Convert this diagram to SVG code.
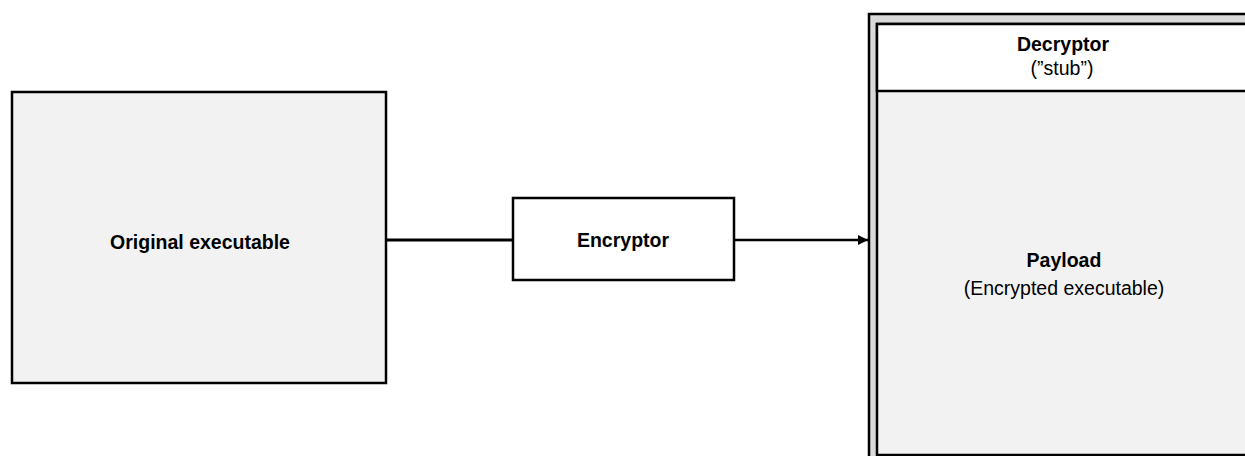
<svg xmlns="http://www.w3.org/2000/svg" width="1245" height="456" viewBox="0 0 1245 456">
<style>
text{font-family:"Liberation Sans",Arial,sans-serif;font-size:19.5px;fill:#000;text-anchor:middle}
.b{font-weight:bold}
.box{stroke:#000;stroke-width:2.5}
</style>
<defs>
<marker id="arr" markerWidth="10" markerHeight="10" refX="10" refY="5" orient="auto" markerUnits="userSpaceOnUse"><path d="M0,0 L10,5 L0,10 Z" fill="#000"/></marker>
</defs>
<rect width="1245" height="456" fill="#fff"/>
<g id="connectors">
<line x1="386" y1="240" x2="513" y2="240" stroke="#000" stroke-width="3"/>
<line x1="734" y1="240" x2="868" y2="240" stroke="#000" stroke-width="2.5" marker-end="url(#arr)"/>
</g>
<g id="original">
<rect class="box" x="12" y="92" width="374" height="291" fill="#f2f2f2"/>
<text class="b" x="200" y="249">Original executable</text>
</g>
<g id="encryptor">
<rect class="box" x="513" y="198" width="221" height="82" fill="#fff"/>
<text class="b" x="623" y="247">Encryptor</text>
</g>
<g id="packed">
<rect class="box" x="869" y="14" width="390" height="450" fill="#d9d9d9"/>
<rect class="box" x="877" y="24" width="380" height="431" fill="#f2f2f2"/>
<rect class="box" x="877" y="24" width="380" height="67" fill="#fff"/>
</g>
<g id="decryptor">
<text class="b" x="1063" y="51">Decryptor</text>
<text x="1062" y="75">(”stub”)</text>
</g>
<g id="payload">
<text class="b" x="1064" y="267">Payload</text>
<text x="1064" y="295">(Encrypted executable)</text>
</g>
</svg>
